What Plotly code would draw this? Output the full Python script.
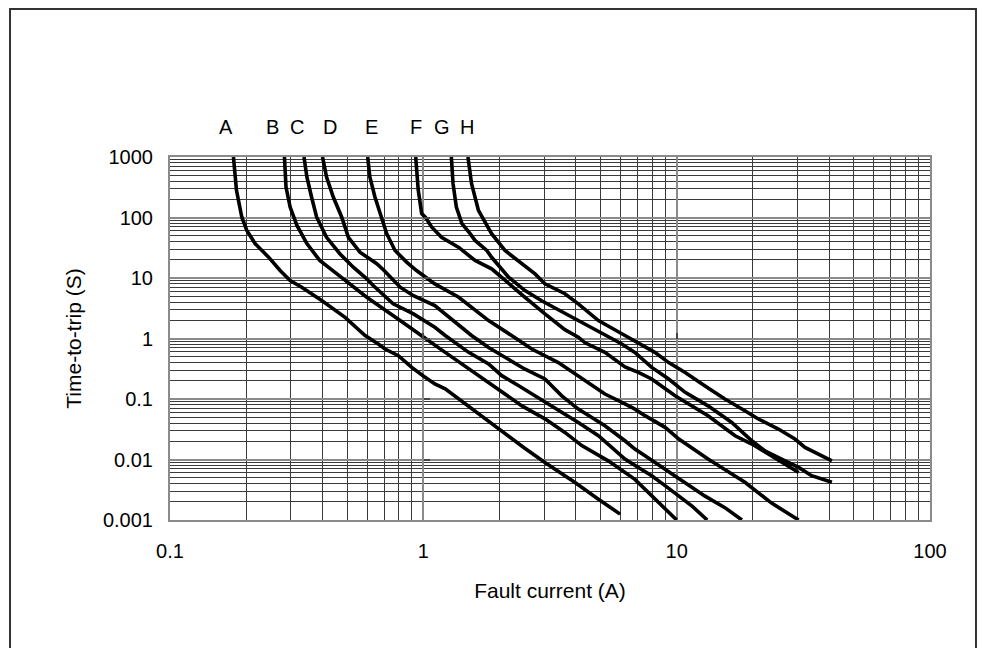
import numpy as np
import plotly.graph_objects as go

# ---- data (current in A, time in s) ----
A_x = [0.178, 0.183, 0.192, 0.201, 0.217, 0.245, 0.272, 0.298, 0.331, 0.397, 0.491, 0.589, 0.664, 0.706, 0.797, 0.90, 1.0, 1.11, 1.22, 1.75, 2.49, 3.02, 3.97, 4.91, 5.98]
A_y = [1000, 281, 102, 61, 36.8, 22.1, 13.3, 9.1, 7.05, 4.24, 2.24, 1.12, 0.81, 0.67, 0.52, 0.333, 0.24, 0.177, 0.147, 0.0467, 0.0158, 0.0089, 0.00416, 0.00221, 0.00125]

B_x = [0.283, 0.287, 0.298, 0.317, 0.347, 0.39, 0.456, 0.598, 0.81, 0.916, 1.02, 1.22, 1.51, 2.04, 2.45, 3.02, 3.62, 4.22, 5.37, 6.84, 7.5, 8.5, 10.0]
B_y = [1000, 318, 149, 74, 37, 19.5, 11.7, 4.8, 1.98, 1.35, 1.0, 0.59, 0.314, 0.129, 0.077, 0.047, 0.028, 0.017, 0.0095, 0.0047, 0.0032, 0.0019, 0.001]

C_x = [0.338, 0.347, 0.362, 0.379, 0.415, 0.469, 0.529, 0.598, 0.634, 0.76, 0.914, 1.03, 1.11, 1.22, 1.51, 1.81, 2.04, 2.38, 3.21, 4.09, 4.91, 6.25, 7.06, 7.97, 9.0, 9.86, 11.5, 13.2]
C_y = [1000, 467, 218, 102, 47, 25, 15.1, 9.7, 7.5, 3.74, 2.55, 1.85, 1.53, 1.12, 0.59, 0.38, 0.243, 0.166, 0.0774, 0.041, 0.0247, 0.0102, 0.0074, 0.0054, 0.0037, 0.0028, 0.0017, 0.001]

D_x = [0.40, 0.415, 0.441, 0.476, 0.506, 0.562, 0.655, 0.70, 0.81, 0.914, 1.11, 1.55, 1.81, 2.04, 2.51, 3.02, 3.52, 4.09, 5.21, 6.25, 6.84, 7.5, 9.0, 10.2, 12.9, 15.5, 18.1]
D_y = [1000, 467, 218, 102, 47, 26.7, 17.2, 13.3, 7.05, 5.1, 3.5, 1.12, 0.71, 0.52, 0.314, 0.214, 0.113, 0.068, 0.036, 0.0204, 0.0149, 0.0115, 0.0069, 0.0047, 0.0025, 0.0016, 0.001]

E_x = [0.603, 0.615, 0.644, 0.675, 0.717, 0.773, 0.859, 0.94, 1.03, 1.11, 1.38, 1.81, 2.23, 2.68, 3.41, 4.09, 5.21, 6.25, 6.84, 7.5, 9.0, 10.2, 13.3, 18.6, 23.7, 30.3]
E_y = [1000, 467, 218, 116, 54, 28.5, 18.3, 13.3, 10.0, 8.0, 4.8, 1.98, 1.12, 0.67, 0.40, 0.243, 0.121, 0.083, 0.068, 0.053, 0.034, 0.0218, 0.0102, 0.0042, 0.0019, 0.001]

F_x = [0.933, 0.955, 0.985, 1.02, 1.08, 1.18, 1.38, 1.60, 1.86, 2.17, 2.52, 3.02, 3.62, 4.09, 4.35, 5.21, 5.89, 6.25, 7.06, 7.97, 9.86, 13.3, 17.0, 19.8, 23.7, 30.3]
F_y = [1000, 281, 116, 100, 69, 47, 32, 19.5, 14.2, 8.0, 4.8, 2.55, 1.4, 1.05, 0.85, 0.59, 0.40, 0.34, 0.275, 0.214, 0.113, 0.053, 0.0247, 0.018, 0.0115, 0.0061]

G_x = [1.29, 1.31, 1.35, 1.42, 1.53, 1.60, 1.78, 1.86, 2.17, 2.52, 2.93, 3.62, 4.35, 5.21, 6.05, 6.84, 7.97, 9.3, 10.8, 13.3, 16.5, 19.8, 22.3, 26.8, 30.3, 34.1, 41.0]
G_y = [1000, 363, 149, 79, 54, 41.8, 28.5, 22, 10.3, 6.2, 4.2, 2.6, 1.7, 1.12, 0.82, 0.59, 0.333, 0.214, 0.129, 0.077, 0.041, 0.0204, 0.0139, 0.0095, 0.0074, 0.0054, 0.0042]

H_x = [1.50, 1.55, 1.65, 1.86, 2.10, 2.37, 2.76, 3.02, 3.62, 4.09, 4.91, 6.25, 8.2, 9.3, 10.8, 12.9, 15.5, 18.6, 21.0, 25.2, 29.3, 32.1, 38.5, 41.0]
H_y = [1000, 363, 131, 54, 28.5, 19.5, 11.7, 8.0, 5.5, 3.74, 1.98, 1.12, 0.59, 0.40, 0.275, 0.166, 0.1, 0.064, 0.0467, 0.0319, 0.0218, 0.0158, 0.0108, 0.0095]

CURVE_NAMES = ["A", "B", "C", "D", "E", "F", "G", "H"]
CURVES_X = [A_x, B_x, C_x, D_x, E_x, F_x, G_x, H_x]
CURVES_Y = [A_y, B_y, C_y, D_y, E_y, F_y, G_y, H_y]
LABEL_X = [0.166, 0.2535, 0.318, 0.427, 0.626, 0.937, 1.18, 1.485]

X_TICKS = [0.1, 1, 10, 100]
X_TICK_TEXT = ["0.1", "1", "10", "100"]
Y_TICKS = [0.001, 0.01, 0.1, 1, 10, 100, 1000]
Y_TICK_TEXT = ["0.001", "0.01", "0.1", "1", "10", "100", "1000"]

FONT = "Liberation Sans, Arial, sans-serif"

fig = go.Figure()
for name, xs, ys in zip(CURVE_NAMES, CURVES_X, CURVES_Y):
    fig.add_trace(go.Scatter(x=xs, y=ys, mode="lines", name=name,
                             line=dict(color="black", width=3.6),
                             showlegend=False, cliponaxis=True))

# dummy trace for the crossing tick axes
fig.add_trace(go.Scatter(x=[None], y=[None], xaxis="x2", yaxis="y2",
                         showlegend=False, hoverinfo="skip"))

annotations = []
for name, lx in zip(CURVE_NAMES, LABEL_X):
    annotations.append(dict(x=np.log10(lx), y=1.0835, xref="x", yref="paper",
                            xanchor="center", yanchor="middle",
                            text=name, showarrow=False,
                            font=dict(size=20, color="black", family=FONT)))

fig.update_layout(
    width=970, height=640,
    margin=dict(l=162, r=48, t=149, b=128),
    paper_bgcolor="white", plot_bgcolor="white",
    font=dict(family=FONT, color="black", size=20),
    annotations=annotations,
    xaxis=dict(type="log", range=[-1, 2], tickvals=X_TICKS, ticktext=X_TICK_TEXT,
               ticks="", ticklabelstandoff=12,
               showgrid=True, gridcolor="#8a8a8a", gridwidth=2,
               minor=dict(dtick="D1", showgrid=True, gridcolor="#3a3a3a", gridwidth=1, ticks=""),
               showline=True, linecolor="#8a8a8a", linewidth=2, mirror=True,
               zeroline=False, tickfont=dict(size=20),
               title=dict(text="Fault current (A)", font=dict(size=21), standoff=22)),
    yaxis=dict(type="log", range=[-3, 3], tickvals=Y_TICKS, ticktext=Y_TICK_TEXT,
               ticks="", ticklabelstandoff=11,
               showgrid=True, gridcolor="#8a8a8a", gridwidth=2,
               minor=dict(dtick="D1", showgrid=True, gridcolor="#3a3a3a", gridwidth=1, ticks=""),
               showline=True, linecolor="#8a8a8a", linewidth=2, mirror=True,
               zeroline=False, tickfont=dict(size=20),
               title=dict(text="Time-to-trip (S)", font=dict(size=21), standoff=16)),
    xaxis2=dict(type="log", range=[-1, 2], overlaying="x", anchor="free", position=0.5,
                side="bottom", dtick=1, ticks="inside", ticklen=6, tickwidth=1.5,
                tickcolor="#444444", showticklabels=False, showgrid=False,
                showline=False, zeroline=False),
    yaxis2=dict(type="log", range=[-3, 3], overlaying="y", anchor="free", position=1/3,
                side="left", dtick=1, ticks="inside", ticklen=6, tickwidth=1.5,
                tickcolor="#444444", showticklabels=False, showgrid=False,
                showline=False, zeroline=False),
    shapes=[dict(type="rect", xref="paper", yref="paper",
                 x0=-0.2105, x1=1.0605, y0=-0.386, y1=1.4077,
                 line=dict(color="#333333", width=2), layer="below")],
)

fig.write_html("out.html")
